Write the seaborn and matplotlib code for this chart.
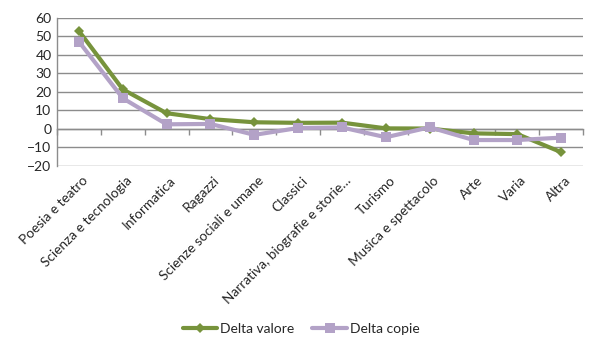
import matplotlib
matplotlib.use("Agg")
import matplotlib.pyplot as plt
import matplotlib.transforms as mtransforms
import seaborn as sns
import pandas as pd
import numpy as np

categories = ["Poesia e teatro", "Scienza e tecnologia", "Informatica", "Ragazzi",
              "Scienze sociali e umane", "Classici", "Narrativa, biografie e storie…",
              "Turismo", "Musica e spettacolo", "Arte", "Varia", "Altra"]
delta_valore = [53, 21.4, 8.5, 5.3, 3.6, 3.3, 3.4, 0.3, 0.2, -2.4, -2.8, -12.6]
delta_copie = [47.2, 16.6, 2.5, 2.7, -3.2, 0.5, 0.8, -4.5, 0.9, -6.0, -6.0, -4.7]
series_names = ["Delta valore", "Delta copie"]

df = pd.DataFrame({
    "x": list(range(len(categories))) * 2,
    "value": delta_valore + delta_copie,
    "series": [series_names[0]] * len(categories) + [series_names[1]] * len(categories),
})

sns.set_style("white")
plt.rcParams['font.family'] = ['Lato', 'DejaVu Sans']

fig = plt.figure(figsize=(6, 3.53), dpi=100)
ax = fig.add_axes([0.095, 0.530, 0.877, 0.419])

green = "#77933C"
lav = "#B3A2C7"
grid = "#8C8C8C"

for y in range(-20, 61, 10):
    ax.axhline(y, color=grid, lw=1.0, zorder=0)

sns.lineplot(data=df, x="x", y="value", hue="series", style="series",
             palette={series_names[0]: green, series_names[1]: lav},
             markers={series_names[0]: "D", series_names[1]: "s"},
             dashes=False, lw=3, ax=ax, legend=False, zorder=3)
for line, ms in zip(ax.lines[-2:], [5, 7]):
    line.set_markersize(ms)
    line.set_markeredgewidth(0)

ax.set_xlim(-0.5, len(categories) - 0.5)
ax.set_ylim(-20, 60)
ax.set_yticks(range(-20, 61, 10))
ax.set_xticks(range(len(categories)))
ax.set_xticklabels(categories, rotation=45, ha="right", rotation_mode="anchor", fontsize=9.8)
ax.tick_params(axis="x", length=0, pad=6)
ax.tick_params(axis="y", length=0, labelsize=10, pad=4)
offset = mtransforms.ScaledTranslation(3 / 100, 0, fig.dpi_scale_trans)
for lab in ax.get_xticklabels():
    lab.set_transform(lab.get_transform() + offset)
ax.set_xlabel("")
ax.set_ylabel("")
for s in ["top", "right", "bottom"]:
    ax.spines[s].set_visible(False)
ax.spines["left"].set_color(grid)
ax.spines["left"].set_linewidth(1.0)

sec = ax.secondary_xaxis(0.25)
sec.set_xticks(np.arange(-0.5, len(categories), 1.0))
sec.set_xticklabels([])
sec.tick_params(axis="x", direction="out", length=4, color=grid, width=1)
sec.spines["bottom"].set_color(grid)
sec.spines["bottom"].set_linewidth(1.0)

from matplotlib.lines import Line2D
handles = [Line2D([], [], color=green, lw=3, marker="D", markersize=5, markeredgewidth=0),
           Line2D([], [], color=lav, lw=3, marker="s", markersize=7, markeredgewidth=0)]
fig.legend(handles, series_names, loc="center", bbox_to_anchor=(0.502, 0.068), ncol=2,
           frameon=False, fontsize=10, handlelength=2.5, columnspacing=1.3, handletextpad=0.2)

fig.savefig("out.png", dpi=100)
